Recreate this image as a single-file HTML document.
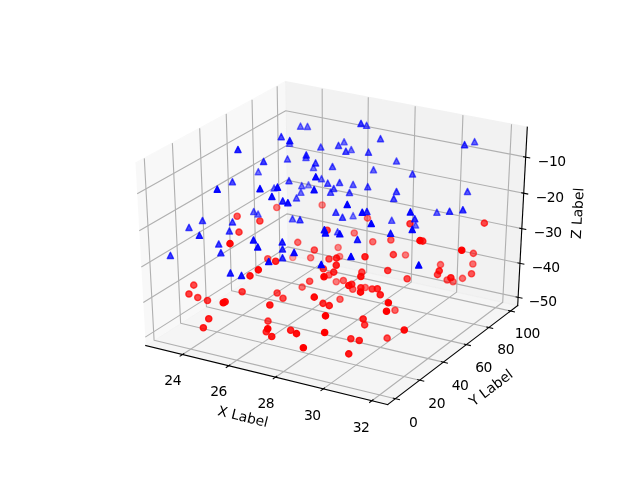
<!DOCTYPE html>
<html><head><meta charset="utf-8"><title>3D scatter</title>
<style>html,body{margin:0;padding:0;background:#fff;overflow:hidden}svg{display:block;will-change:transform}
text{font-size:10px;font-family:"DejaVu Sans","Liberation Sans",sans-serif}
text.tl{letter-spacing:-0.36px}
text.al{letter-spacing:0px}
</style>
</head><body>
<svg width="640" height="480" viewBox="0 0 460.8 345.6" version="1.1">
<defs>
<style type="text/css">*{stroke-linejoin: round; stroke-linecap: butt}</style>
</defs>
<g id="figure_1">
<g id="patch_1">
<path d="M 0 345.6
L 460.8 345.6
L 460.8 0
L 0 0
z
" style="fill: #ffffff"/>
</g>
<g id="patch_2">
<path d="M 57.6 307.584
L 414.72 307.584
L 414.72 41.472
L 57.6 41.472
z
" style="fill: #ffffff"/>
</g>
<g id="pane3d_1">
<g id="patch_3">
<path d="M 104.941774 248.782626
L 207.151387 183.537994
L 205.449705 58.866209
L 97.541237 117.48717
" style="fill: #f2f2f2; opacity: 0.5; stroke: #f2f2f2; stroke-linejoin: miter"/>
</g>
</g>
<g id="pane3d_2">
<g id="patch_4">
<path d="M 207.151387 183.537994
L 372.72135 220.013954
L 379.648599 91.582742
L 205.449705 58.866209
" style="fill: #e6e6e6; opacity: 0.5; stroke: #e6e6e6; stroke-linejoin: miter"/>
</g>
</g>
<g id="pane3d_3">
<g id="patch_5">
<path d="M 104.941774 248.782626
L 279.143747 291.264825
L 372.72135 220.013954
L 207.151387 183.537994
" style="fill: #ececec; opacity: 0.5; stroke: #ececec; stroke-linejoin: miter"/>
</g>
</g>
<g id="grid3d_1">
<g id="Line3DCollection_1">
<path d="M 131.431107 255.242513
L 232.399807 189.100358
L 231.964981 63.846079
" style="fill: none; stroke: #b0b0b0; stroke-width: 0.8"/>
<path d="M 164.613718 263.334674
L 263.991601 196.060201
L 265.166715 70.081742
" style="fill: none; stroke: #b0b0b0; stroke-width: 0.8"/>
<path d="M 198.388626 271.571276
L 296.10585 203.135144
L 298.94582 76.425842
" style="fill: none; stroke: #b0b0b0; stroke-width: 0.8"/>
<path d="M 232.771832 279.956222
L 328.755624 210.328066
L 333.317488 82.881233
" style="fill: none; stroke: #b0b0b0; stroke-width: 0.8"/>
<path d="M 267.779919 288.493557
L 361.954429 217.641943
L 368.29745 89.450867
" style="fill: none; stroke: #b0b0b0; stroke-width: 0.8"/>
</g>
</g>
<g id="grid3d_2">
<g id="Line3DCollection_2">
<path d="M 103.903962 114.030638
L 110.946392 244.94963
L 284.658631 287.06574
" style="fill: none; stroke: #b0b0b0; stroke-width: 0.8"/>
<path d="M 124.121245 103.047658
L 130.044117 232.758761
L 302.184293 273.721536
" style="fill: none; stroke: #b0b0b0; stroke-width: 0.8"/>
<path d="M 143.772493 92.372175
L 148.63389 220.892138
L 319.222716 260.74832
" style="fill: none; stroke: #b0b0b0; stroke-width: 0.8"/>
<path d="M 162.881151 81.991452
L 166.735711 209.336995
L 335.793939 248.130833
" style="fill: none; stroke: #b0b0b0; stroke-width: 0.8"/>
<path d="M 181.469383 71.893449
L 184.368544 198.081227
L 351.91692 235.854643
" style="fill: none; stroke: #b0b0b0; stroke-width: 0.8"/>
<path d="M 199.558166 62.06677
L 201.550382 187.113348
L 367.609603 223.906086
" style="fill: none; stroke: #b0b0b0; stroke-width: 0.8"/>
</g>
</g>
<g id="grid3d_3">
<g id="Line3DCollection_3">
<path d="M 373.041159 214.084684
L 207.072662 177.770315
L 104.600675 242.731069
" style="fill: none; stroke: #b0b0b0; stroke-width: 0.8"/>
<path d="M 374.361836 189.599325
L 206.74773 153.964548
L 103.191507 217.730527
" style="fill: none; stroke: #b0b0b0; stroke-width: 0.8"/>
<path d="M 375.709197 164.619265
L 206.416512 129.698191
L 101.752914 192.207968
" style="fill: none; stroke: #b0b0b0; stroke-width: 0.8"/>
<path d="M 377.084056 139.129359
L 206.078822 104.957744
L 100.283967 166.146868
" style="fill: none; stroke: #b0b0b0; stroke-width: 0.8"/>
<path d="M 378.487267 113.113836
L 205.73447 79.729178
L 98.783693 139.530002
" style="fill: none; stroke: #b0b0b0; stroke-width: 0.8"/>
</g>
</g>
<g id="axis3d_1">
<g id="line2d_1">
<path d="M 104.941774 248.782626
L 279.143747 291.264825
" style="fill: none; stroke: #000000; stroke-width: 0.8; stroke-linecap: square"/>
</g>
<g id="xtick_1">
<g id="line2d_2">
<path d="M 132.301268 254.672492
L 129.687525 256.384692
" style="fill: none; stroke: #000000; stroke-width: 0.8; stroke-linecap: square"/>
</g>
<g id="text_1">
<text class="tl" style="text-anchor: middle" x="124.109094" y="276.780603" transform="translate(0.214 0.419) rotate(-0 124.109094 276.780603)">24</text>
</g>
</g>
<g id="xtick_2">
<g id="line2d_3">
<path d="M 165.470712 262.754526
L 162.896491 264.497161
" style="fill: none; stroke: #000000; stroke-width: 0.8; stroke-linecap: square"/>
</g>
<g id="text_2">
<text class="tl" style="text-anchor: middle" x="157.288552" y="285.011356" transform="translate(0.020 0.109) rotate(-0 157.288552 285.011356)">26</text>
</g>
</g>
<g id="xtick_3">
<g id="line2d_4">
<path d="M 199.231843 270.98073
L 196.698977 272.754619
" style="fill: none; stroke: #000000; stroke-width: 0.8; stroke-linecap: square"/>
</g>
<g id="text_3">
<text class="tl" style="text-anchor: middle" x="191.061363" y="293.389301" transform="translate(0.283 0.371) rotate(-0 191.061363 293.389301)">28</text>
</g>
</g>
<g id="xtick_4">
<g id="line2d_5">
<path d="M 233.600634 279.354996
L 231.111038 281.160988
" style="fill: none; stroke: #000000; stroke-width: 0.8; stroke-linecap: square"/>
</g>
<g id="text_4">
<text class="tl" style="text-anchor: middle" x="225.443586" y="301.918422" transform="translate(-0.640 0.482) rotate(-0 225.443586 301.918422)">30</text>
</g>
</g>
<g id="xtick_5">
<g id="line2d_6">
<path d="M 268.593641 287.881358
L 266.149315 289.720332
" style="fill: none; stroke: #000000; stroke-width: 0.8; stroke-linecap: square"/>
</g>
<g id="text_5">
<text class="tl" style="text-anchor: middle" x="260.451867" y="310.602848" transform="translate(-0.507 0.437) rotate(-0 260.451867 310.602848)">32</text>
</g>
</g>
<g id="text_6">
<text class="al" style="text-anchor: middle" x="173.435684" y="303.123377" transform="translate(0.718 0.109) rotate(-346.294929 173.435684 303.123377)">X Label</text>
</g>
</g>
<g id="axis3d_2">
<g id="line2d_7">
<path d="M 372.72135 220.013954
L 279.143747 291.264825
" style="fill: none; stroke: #000000; stroke-width: 0.8; stroke-linecap: square"/>
</g>
<g id="xtick_6">
<g id="line2d_8">
<path d="M 283.204767 286.713255
L 287.569612 287.771501
" style="fill: none; stroke: #000000; stroke-width: 0.8; stroke-linecap: square"/>
</g>
<g id="text_7">
<text class="tl" style="text-anchor: middle" x="297.36752" y="306.830303" transform="translate(0.143 0.610) rotate(-0 297.36752 306.830303)">0</text>
</g>
</g>
<g id="xtick_7">
<g id="line2d_9">
<path d="M 300.744482 273.378916
L 305.067091 274.407531
" style="fill: none; stroke: #000000; stroke-width: 0.8; stroke-linecap: square"/>
</g>
<g id="text_8">
<text class="tl" style="text-anchor: middle" x="314.705304" y="293.321393" transform="translate(-0.306 0.439) rotate(-0 314.705304 293.321393)">20</text>
</g>
</g>
<g id="xtick_8">
<g id="line2d_10">
<path d="M 317.796744 260.415157
L 322.077761 261.415369
" style="fill: none; stroke: #000000; stroke-width: 0.8; stroke-linecap: square"/>
</g>
<g id="text_9">
<text class="tl" style="text-anchor: middle" x="331.561311" y="280.187866" transform="translate(-0.345 0.612) rotate(-0 331.561311 280.187866)">40</text>
</g>
</g>
<g id="xtick_9">
<g id="line2d_11">
<path d="M 334.381594 247.806742
L 338.62166 248.779711
" style="fill: none; stroke: #000000; stroke-width: 0.8; stroke-linecap: square"/>
</g>
<g id="text_10">
<text class="tl" style="text-anchor: middle" x="347.955348" y="267.414287" transform="translate(0.246 0.426) rotate(-0 347.955348 267.414287)">60</text>
</g>
</g>
<g id="xtick_10">
<g id="line2d_12">
<path d="M 350.517991 235.539257
L 354.717739 236.486081
" style="fill: none; stroke: #000000; stroke-width: 0.8; stroke-linecap: square"/>
</g>
<g id="text_11">
<text class="tl" style="text-anchor: middle" x="363.906148" y="254.98606" transform="translate(0.161 -0.106) rotate(-0 363.906148 254.98606)">80</text>
</g>
</g>
<g id="xtick_11">
<g id="line2d_13">
<path d="M 366.223881 223.59906
L 370.38394 224.520779
" style="fill: none; stroke: #000000; stroke-width: 0.8; stroke-linecap: square"/>
</g>
<g id="text_12">
<text class="tl" style="text-anchor: middle" x="379.431448" y="242.889367" transform="translate(0.264 0.471) rotate(-0 379.431448 242.889367)">100</text>
</g>
</g>
<g id="text_13">
<text class="al" style="text-anchor: middle" x="356.034781" y="282.00015" transform="translate(-0.502 -0.098) rotate(-37.285988 356.034781 282.00015)">Y Label</text>
</g>
</g>
<g id="axis3d_3">
<g id="line2d_14">
<path d="M 372.72135 220.013954
L 379.648599 91.582742
" style="fill: none; stroke: #000000; stroke-width: 0.8; stroke-linecap: square"/>
</g>
<g id="xtick_12">
<g id="line2d_15">
<path d="M 371.656308 213.781675
L 375.813747 214.691334
" style="fill: none; stroke: #000000; stroke-width: 0.8; stroke-linecap: square"/>
</g>
<g id="text_14">
<text class="tl" style="text-anchor: middle" x="391.416674" y="219.722195" transform="translate(-0.710 0.598) rotate(-0 391.416674 219.722195)">−50</text>
</g>
</g>
<g id="xtick_13">
<g id="line2d_16">
<path d="M 372.962678 189.301864
L 377.163098 190.194874
" style="fill: none; stroke: #000000; stroke-width: 0.8; stroke-linecap: square"/>
</g>
<g id="text_15">
<text class="tl" style="text-anchor: middle" x="392.917714" y="195.272777" transform="translate(-0.066 0.567) rotate(-0 392.917714 195.272777)">−40</text>
</g>
</g>
<g id="xtick_14">
<g id="line2d_17">
<path d="M 374.295432 164.327639
L 378.539731 165.203138
" style="fill: none; stroke: #000000; stroke-width: 0.8; stroke-linecap: square"/>
</g>
<g id="text_16">
<text class="tl" style="text-anchor: middle" x="394.44901" y="170.330514" transform="translate(-0.141 0.309) rotate(-0 394.44901 170.330514)">−30</text>
</g>
</g>
<g id="xtick_15">
<g id="line2d_18">
<path d="M 375.655378 138.843869
L 379.944482 139.700951
" style="fill: none; stroke: #000000; stroke-width: 0.8; stroke-linecap: square"/>
</g>
<g id="text_17">
<text class="tl" style="text-anchor: middle" x="396.011489" y="144.880354" transform="translate(-0.275 0.560) rotate(-0 396.011489 144.880354)">−20</text>
</g>
</g>
<g id="xtick_16">
<g id="line2d_19">
<path d="M 377.043356 112.834799
L 381.37822 113.672516
" style="fill: none; stroke: #000000; stroke-width: 0.8; stroke-linecap: square"/>
</g>
<g id="text_18">
<text class="tl" style="text-anchor: middle" x="397.606111" y="118.906624" transform="translate(-0.366 0.613) rotate(-0 397.606111 118.906624)">−10</text>
</g>
</g>
<g id="text_19">
<text class="al" style="text-anchor: middle" x="419.595339" y="153.524531" transform="translate(-0.427 0.251) rotate(-86.912605 419.595339 153.524531)">Z Label</text>
</g>
</g>
<g id="axes_1"/>
<g id="axes_2">
<g id="PathCollection_1">
<defs>
<path id="C0_0_4a3c22dc1c" d="M 0 2.236068
C 0.593012 2.236068 1.161816 2.000462 1.581139 1.581139
C 2.000462 1.161816 2.236068 0.593012 2.236068 -0
C 2.236068 -0.593012 2.000462 -1.161816 1.581139 -1.581139
C 1.161816 -2.000462 0.593012 -2.236068 0 -2.236068
C -0.593012 -2.236068 -1.161816 -2.000462 -1.581139 -1.581139
C -2.000462 -1.161816 -2.236068 -0.593012 -2.236068 0
C -2.236068 0.593012 -2.000462 1.161816 -1.581139 1.581139
C -1.161816 2.000462 -0.593012 2.236068 0 2.236068
z
"/>
</defs>
<g clip-path="url(#p53ebf2ea60)">
<use href="#C0_0_4a3c22dc1c" x="210.78" y="185.4" style="fill: #ff0000; fill-opacity: 0.35; stroke: #ff0000; stroke-opacity: 0.35"/>
</g>
<g clip-path="url(#p53ebf2ea60)">
<use href="#C0_0_4a3c22dc1c" x="231.948" y="147.6" style="fill: #ff0000; fill-opacity: 0.45; stroke: #ff0000; stroke-opacity: 0.45"/>
</g>
<g clip-path="url(#p53ebf2ea60)">
<use href="#C0_0_4a3c22dc1c" x="243.468" y="178.2" style="fill: #ff0000; fill-opacity: 0.45; stroke: #ff0000; stroke-opacity: 0.45"/>
</g>
<g clip-path="url(#p53ebf2ea60)">
<use href="#C0_0_4a3c22dc1c" x="244.548" y="184.68" style="fill: #ff0000; fill-opacity: 0.45; stroke: #ff0000; stroke-opacity: 0.45"/>
</g>
<g clip-path="url(#p53ebf2ea60)">
<use href="#C0_0_4a3c22dc1c" x="199.26" y="149.4" style="fill: #ff0000; fill-opacity: 0.5; stroke: #ff0000; stroke-opacity: 0.5"/>
</g>
<g clip-path="url(#p53ebf2ea60)">
<use href="#C0_0_4a3c22dc1c" x="264.6" y="157.068" style="fill: #ff0000; fill-opacity: 0.5; stroke: #ff0000; stroke-opacity: 0.5"/>
</g>
<g clip-path="url(#p53ebf2ea60)">
<use href="#C0_0_4a3c22dc1c" x="255.06" y="167.76" style="fill: #ff0000; fill-opacity: 0.5; stroke: #ff0000; stroke-opacity: 0.5"/>
</g>
<g clip-path="url(#p53ebf2ea60)">
<use href="#C0_0_4a3c22dc1c" x="223.668" y="185.58" style="fill: #ff0000; fill-opacity: 0.5; stroke: #ff0000; stroke-opacity: 0.5"/>
</g>
<g clip-path="url(#p53ebf2ea60)">
<use href="#C0_0_4a3c22dc1c" x="242.1" y="202.86" style="fill: #ff0000; fill-opacity: 0.5; stroke: #ff0000; stroke-opacity: 0.5"/>
</g>
<g clip-path="url(#p53ebf2ea60)">
<use href="#C0_0_4a3c22dc1c" x="291.96" y="183.6" style="fill: #ff0000; fill-opacity: 0.5; stroke: #ff0000; stroke-opacity: 0.5"/>
</g>
<g clip-path="url(#p53ebf2ea60)">
<use href="#C0_0_4a3c22dc1c" x="340.452" y="190.08" style="fill: #ff0000; fill-opacity: 0.55; stroke: #ff0000; stroke-opacity: 0.55"/>
</g>
<g clip-path="url(#p53ebf2ea60)">
<use href="#C0_0_4a3c22dc1c" x="214.38" y="174.492" style="fill: #ff0000; fill-opacity: 0.55; stroke: #ff0000; stroke-opacity: 0.55"/>
</g>
<g clip-path="url(#p53ebf2ea60)">
<use href="#C0_0_4a3c22dc1c" x="217.548" y="206.748" style="fill: #ff0000; fill-opacity: 0.55; stroke: #ff0000; stroke-opacity: 0.55"/>
</g>
<g clip-path="url(#p53ebf2ea60)">
<use href="#C0_0_4a3c22dc1c" x="268.38" y="174.06" style="fill: #ff0000; fill-opacity: 0.55; stroke: #ff0000; stroke-opacity: 0.55"/>
</g>
<g clip-path="url(#p53ebf2ea60)">
<use href="#C0_0_4a3c22dc1c" x="262.98" y="207" style="fill: #ff0000; fill-opacity: 0.55; stroke: #ff0000; stroke-opacity: 0.55"/>
</g>
<g clip-path="url(#p53ebf2ea60)">
<use href="#C0_0_4a3c22dc1c" x="333" y="200.412" style="fill: #ff0000; fill-opacity: 0.55; stroke: #ff0000; stroke-opacity: 0.55"/>
</g>
<g clip-path="url(#p53ebf2ea60)">
<use href="#C0_0_4a3c22dc1c" x="317.16" y="190.548" style="fill: #ff0000; fill-opacity: 0.55; stroke: #ff0000; stroke-opacity: 0.55"/>
</g>
<g clip-path="url(#p53ebf2ea60)">
<use href="#C0_0_4a3c22dc1c" x="326.16" y="202.86" style="fill: #ff0000; fill-opacity: 0.55; stroke: #ff0000; stroke-opacity: 0.55"/>
</g>
<g clip-path="url(#p53ebf2ea60)">
<use href="#C0_0_4a3c22dc1c" x="340.812" y="182.412" style="fill: #ff0000; fill-opacity: 0.6; stroke: #ff0000; stroke-opacity: 0.6"/>
</g>
<g clip-path="url(#p53ebf2ea60)">
<use href="#C0_0_4a3c22dc1c" x="192.78" y="186.3" style="fill: #ff0000; fill-opacity: 0.6; stroke: #ff0000; stroke-opacity: 0.6"/>
</g>
<g clip-path="url(#p53ebf2ea60)">
<use href="#C0_0_4a3c22dc1c" x="281.412" y="172.8" style="fill: #ff0000; fill-opacity: 0.6; stroke: #ff0000; stroke-opacity: 0.6"/>
</g>
<g clip-path="url(#p53ebf2ea60)">
<use href="#C0_0_4a3c22dc1c" x="236.88" y="198" style="fill: #ff0000; fill-opacity: 0.6; stroke: #ff0000; stroke-opacity: 0.6"/>
</g>
<g clip-path="url(#p53ebf2ea60)">
<use href="#C0_0_4a3c22dc1c" x="247.212" y="201.96" style="fill: #ff0000; fill-opacity: 0.6; stroke: #ff0000; stroke-opacity: 0.6"/>
</g>
<g clip-path="url(#p53ebf2ea60)">
<use href="#C0_0_4a3c22dc1c" x="253.98" y="208.26" style="fill: #ff0000; fill-opacity: 0.6; stroke: #ff0000; stroke-opacity: 0.6"/>
</g>
<g clip-path="url(#p53ebf2ea60)">
<use href="#C0_0_4a3c22dc1c" x="321.948" y="201.6" style="fill: #ff0000; fill-opacity: 0.6; stroke: #ff0000; stroke-opacity: 0.6"/>
</g>
<g clip-path="url(#p53ebf2ea60)">
<use href="#C0_0_4a3c22dc1c" x="244.8" y="215.46" style="fill: #ff0000; fill-opacity: 0.6; stroke: #ff0000; stroke-opacity: 0.6"/>
</g>
<g clip-path="url(#p53ebf2ea60)">
<use href="#C0_0_4a3c22dc1c" x="284.4" y="223.38" style="fill: #ff0000; fill-opacity: 0.6; stroke: #ff0000; stroke-opacity: 0.6"/>
</g>
<g clip-path="url(#p53ebf2ea60)">
<use href="#C0_0_4a3c22dc1c" x="170.748" y="155.7" style="fill: #ff0000; fill-opacity: 0.65; stroke: #ff0000; stroke-opacity: 0.65"/>
</g>
<g clip-path="url(#p53ebf2ea60)">
<use href="#C0_0_4a3c22dc1c" x="226.332" y="180" style="fill: #ff0000; fill-opacity: 0.65; stroke: #ff0000; stroke-opacity: 0.65"/>
</g>
<g clip-path="url(#p53ebf2ea60)">
<use href="#C0_0_4a3c22dc1c" x="222.948" y="202.5" style="fill: #ff0000; fill-opacity: 0.65; stroke: #ff0000; stroke-opacity: 0.65"/>
</g>
<g clip-path="url(#p53ebf2ea60)">
<use href="#C0_0_4a3c22dc1c" x="339.48" y="197.1" style="fill: #ff0000; fill-opacity: 0.65; stroke: #ff0000; stroke-opacity: 0.65"/>
</g>
<g clip-path="url(#p53ebf2ea60)">
<use href="#C0_0_4a3c22dc1c" x="172.08" y="167.148" style="fill: #ff0000; fill-opacity: 0.7; stroke: #ff0000; stroke-opacity: 0.7"/>
</g>
<g clip-path="url(#p53ebf2ea60)">
<use href="#C0_0_4a3c22dc1c" x="187.092" y="159.12" style="fill: #ff0000; fill-opacity: 0.7; stroke: #ff0000; stroke-opacity: 0.7"/>
</g>
<g clip-path="url(#p53ebf2ea60)">
<use href="#C0_0_4a3c22dc1c" x="348.732" y="160.668" style="fill: #ff0000; fill-opacity: 0.7; stroke: #ff0000; stroke-opacity: 0.7"/>
</g>
<g clip-path="url(#p53ebf2ea60)">
<use href="#C0_0_4a3c22dc1c" x="139.5" y="205.308" style="fill: #ff0000; fill-opacity: 0.7; stroke: #ff0000; stroke-opacity: 0.7"/>
</g>
<g clip-path="url(#p53ebf2ea60)">
<use href="#C0_0_4a3c22dc1c" x="199.548" y="210.96" style="fill: #ff0000; fill-opacity: 0.7; stroke: #ff0000; stroke-opacity: 0.7"/>
</g>
<g clip-path="url(#p53ebf2ea60)">
<use href="#C0_0_4a3c22dc1c" x="203.76" y="214.74" style="fill: #ff0000; fill-opacity: 0.7; stroke: #ff0000; stroke-opacity: 0.7"/>
</g>
<g clip-path="url(#p53ebf2ea60)">
<use href="#C0_0_4a3c22dc1c" x="236.88" y="186.48" style="fill: #ff0000; fill-opacity: 0.7; stroke: #ff0000; stroke-opacity: 0.7"/>
</g>
<g clip-path="url(#p53ebf2ea60)">
<use href="#C0_0_4a3c22dc1c" x="283.212" y="183.348" style="fill: #ff0000; fill-opacity: 0.7; stroke: #ff0000; stroke-opacity: 0.7"/>
</g>
<g clip-path="url(#p53ebf2ea60)">
<use href="#C0_0_4a3c22dc1c" x="260.532" y="195.948" style="fill: #ff0000; fill-opacity: 0.7; stroke: #ff0000; stroke-opacity: 0.7"/>
</g>
<g clip-path="url(#p53ebf2ea60)">
<use href="#C0_0_4a3c22dc1c" x="293.148" y="200.7" style="fill: #ff0000; fill-opacity: 0.7; stroke: #ff0000; stroke-opacity: 0.7"/>
</g>
<g clip-path="url(#p53ebf2ea60)">
<use href="#C0_0_4a3c22dc1c" x="315" y="197.748" style="fill: #ff0000; fill-opacity: 0.7; stroke: #ff0000; stroke-opacity: 0.7"/>
</g>
<g clip-path="url(#p53ebf2ea60)">
<use href="#C0_0_4a3c22dc1c" x="142.38" y="214.236" style="fill: #ff0000; fill-opacity: 0.7; stroke: #ff0000; stroke-opacity: 0.7"/>
</g>
<g clip-path="url(#p53ebf2ea60)">
<use href="#C0_0_4a3c22dc1c" x="192.96" y="231.228" style="fill: #ff0000; fill-opacity: 0.7; stroke: #ff0000; stroke-opacity: 0.7"/>
</g>
<g clip-path="url(#p53ebf2ea60)">
<use href="#C0_0_4a3c22dc1c" x="278.748" y="243.468" style="fill: #ff0000; fill-opacity: 0.7; stroke: #ff0000; stroke-opacity: 0.7"/>
</g>
<g clip-path="url(#p53ebf2ea60)">
<use href="#C0_0_4a3c22dc1c" x="235.548" y="165.78" style="fill: #ff0000; fill-opacity: 0.75; stroke: #ff0000; stroke-opacity: 0.75"/>
</g>
<g clip-path="url(#p53ebf2ea60)">
<use href="#C0_0_4a3c22dc1c" x="295.2" y="161.1" style="fill: #ff0000; fill-opacity: 0.75; stroke: #ff0000; stroke-opacity: 0.75"/>
</g>
<g clip-path="url(#p53ebf2ea60)">
<use href="#C0_0_4a3c22dc1c" x="136.044" y="211.644" style="fill: #ff0000; fill-opacity: 0.75; stroke: #ff0000; stroke-opacity: 0.75"/>
</g>
<g clip-path="url(#p53ebf2ea60)">
<use href="#C0_0_4a3c22dc1c" x="174.348" y="210.06" style="fill: #ff0000; fill-opacity: 0.75; stroke: #ff0000; stroke-opacity: 0.75"/>
</g>
<g clip-path="url(#p53ebf2ea60)">
<use href="#C0_0_4a3c22dc1c" x="279.18" y="194.76" style="fill: #ff0000; fill-opacity: 0.75; stroke: #ff0000; stroke-opacity: 0.75"/>
</g>
<g clip-path="url(#p53ebf2ea60)">
<use href="#C0_0_4a3c22dc1c" x="232.812" y="193.5" style="fill: #ff0000; fill-opacity: 0.75; stroke: #ff0000; stroke-opacity: 0.75"/>
</g>
<g clip-path="url(#p53ebf2ea60)">
<use href="#C0_0_4a3c22dc1c" x="267.948" y="208.08" style="fill: #ff0000; fill-opacity: 0.75; stroke: #ff0000; stroke-opacity: 0.75"/>
</g>
<g clip-path="url(#p53ebf2ea60)">
<use href="#C0_0_4a3c22dc1c" x="149.4" y="216.36" style="fill: #ff0000; fill-opacity: 0.75; stroke: #ff0000; stroke-opacity: 0.75"/>
</g>
<g clip-path="url(#p53ebf2ea60)">
<use href="#C0_0_4a3c22dc1c" x="262.548" y="233.892" style="fill: #ff0000; fill-opacity: 0.75; stroke: #ff0000; stroke-opacity: 0.75"/>
</g>
<g clip-path="url(#p53ebf2ea60)">
<use href="#C0_0_4a3c22dc1c" x="242.28" y="185.868" style="fill: #ff0000; fill-opacity: 0.8; stroke: #ff0000; stroke-opacity: 0.8"/>
</g>
<g clip-path="url(#p53ebf2ea60)">
<use href="#C0_0_4a3c22dc1c" x="240.3" y="195.948" style="fill: #ff0000; fill-opacity: 0.8; stroke: #ff0000; stroke-opacity: 0.8"/>
</g>
<g clip-path="url(#p53ebf2ea60)">
<use href="#C0_0_4a3c22dc1c" x="253.26" y="204.66" style="fill: #ff0000; fill-opacity: 0.8; stroke: #ff0000; stroke-opacity: 0.8"/>
</g>
<g clip-path="url(#p53ebf2ea60)">
<use href="#C0_0_4a3c22dc1c" x="259.812" y="207.18" style="fill: #ff0000; fill-opacity: 0.8; stroke: #ff0000; stroke-opacity: 0.8"/>
</g>
<g clip-path="url(#p53ebf2ea60)">
<use href="#C0_0_4a3c22dc1c" x="271.692" y="207.9" style="fill: #ff0000; fill-opacity: 0.8; stroke: #ff0000; stroke-opacity: 0.8"/>
</g>
<g clip-path="url(#p53ebf2ea60)">
<use href="#C0_0_4a3c22dc1c" x="304.38" y="173.628" style="fill: #ff0000; fill-opacity: 0.8; stroke: #ff0000; stroke-opacity: 0.8"/>
</g>
<g clip-path="url(#p53ebf2ea60)">
<use href="#C0_0_4a3c22dc1c" x="316.26" y="195.012" style="fill: #ff0000; fill-opacity: 0.8; stroke: #ff0000; stroke-opacity: 0.8"/>
</g>
<g clip-path="url(#p53ebf2ea60)">
<use href="#C0_0_4a3c22dc1c" x="191.7" y="238.86" style="fill: #ff0000; fill-opacity: 0.8; stroke: #ff0000; stroke-opacity: 0.8"/>
</g>
<g clip-path="url(#p53ebf2ea60)">
<use href="#C0_0_4a3c22dc1c" x="232.56" y="218.412" style="fill: #ff0000; fill-opacity: 0.8; stroke: #ff0000; stroke-opacity: 0.8"/>
</g>
<g clip-path="url(#p53ebf2ea60)">
<use href="#C0_0_4a3c22dc1c" x="252.612" y="243.9" style="fill: #ff0000; fill-opacity: 0.8; stroke: #ff0000; stroke-opacity: 0.8"/>
</g>
<g clip-path="url(#p53ebf2ea60)">
<use href="#C0_0_4a3c22dc1c" x="198.468" y="188.1" style="fill: #ff0000; fill-opacity: 0.85; stroke: #ff0000; stroke-opacity: 0.85"/>
</g>
<g clip-path="url(#p53ebf2ea60)">
<use href="#C0_0_4a3c22dc1c" x="242.1" y="190.98" style="fill: #ff0000; fill-opacity: 0.85; stroke: #ff0000; stroke-opacity: 0.85"/>
</g>
<g clip-path="url(#p53ebf2ea60)">
<use href="#C0_0_4a3c22dc1c" x="262.8" y="184.86" style="fill: #ff0000; fill-opacity: 0.85; stroke: #ff0000; stroke-opacity: 0.85"/>
</g>
<g clip-path="url(#p53ebf2ea60)">
<use href="#C0_0_4a3c22dc1c" x="273.78" y="212.22" style="fill: #ff0000; fill-opacity: 0.85; stroke: #ff0000; stroke-opacity: 0.85"/>
</g>
<g clip-path="url(#p53ebf2ea60)">
<use href="#C0_0_4a3c22dc1c" x="324.612" y="199.98" style="fill: #ff0000; fill-opacity: 0.85; stroke: #ff0000; stroke-opacity: 0.85"/>
</g>
<g clip-path="url(#p53ebf2ea60)">
<use href="#C0_0_4a3c22dc1c" x="150.3" y="229.5" style="fill: #ff0000; fill-opacity: 0.85; stroke: #ff0000; stroke-opacity: 0.85"/>
</g>
<g clip-path="url(#p53ebf2ea60)">
<use href="#C0_0_4a3c22dc1c" x="146.412" y="235.98" style="fill: #ff0000; fill-opacity: 0.85; stroke: #ff0000; stroke-opacity: 0.85"/>
</g>
<g clip-path="url(#p53ebf2ea60)">
<use href="#C0_0_4a3c22dc1c" x="209.268" y="237.78" style="fill: #ff0000; fill-opacity: 0.85; stroke: #ff0000; stroke-opacity: 0.85"/>
</g>
<g clip-path="url(#p53ebf2ea60)">
<use href="#C0_0_4a3c22dc1c" x="237.06" y="220.068" style="fill: #ff0000; fill-opacity: 0.85; stroke: #ff0000; stroke-opacity: 0.85"/>
</g>
<g clip-path="url(#p53ebf2ea60)">
<use href="#C0_0_4a3c22dc1c" x="261.468" y="229.68" style="fill: #ff0000; fill-opacity: 0.85; stroke: #ff0000; stroke-opacity: 0.85"/>
</g>
<g clip-path="url(#p53ebf2ea60)">
<use href="#C0_0_4a3c22dc1c" x="258.66" y="245.16" style="fill: #ff0000; fill-opacity: 0.85; stroke: #ff0000; stroke-opacity: 0.85"/>
</g>
<g clip-path="url(#p53ebf2ea60)">
<use href="#C0_0_4a3c22dc1c" x="180" y="198.612" style="fill: #ff0000; fill-opacity: 0.9; stroke: #ff0000; stroke-opacity: 0.9"/>
</g>
<g clip-path="url(#p53ebf2ea60)">
<use href="#C0_0_4a3c22dc1c" x="259.812" y="199.08" style="fill: #ff0000; fill-opacity: 0.9; stroke: #ff0000; stroke-opacity: 0.9"/>
</g>
<g clip-path="url(#p53ebf2ea60)">
<use href="#C0_0_4a3c22dc1c" x="251.1" y="205.56" style="fill: #ff0000; fill-opacity: 0.9; stroke: #ff0000; stroke-opacity: 0.9"/>
</g>
<g clip-path="url(#p53ebf2ea60)">
<use href="#C0_0_4a3c22dc1c" x="162.108" y="217.26" style="fill: #ff0000; fill-opacity: 0.9; stroke: #ff0000; stroke-opacity: 0.9"/>
</g>
<g clip-path="url(#p53ebf2ea60)">
<use href="#C0_0_4a3c22dc1c" x="194.292" y="219.6" style="fill: #ff0000; fill-opacity: 0.9; stroke: #ff0000; stroke-opacity: 0.9"/>
</g>
<g clip-path="url(#p53ebf2ea60)">
<use href="#C0_0_4a3c22dc1c" x="195.66" y="242.28" style="fill: #ff0000; fill-opacity: 0.9; stroke: #ff0000; stroke-opacity: 0.9"/>
</g>
<g clip-path="url(#p53ebf2ea60)">
<use href="#C0_0_4a3c22dc1c" x="251.1" y="254.772" style="fill: #ff0000; fill-opacity: 0.9; stroke: #ff0000; stroke-opacity: 0.9"/>
</g>
<g clip-path="url(#p53ebf2ea60)">
<use href="#C0_0_4a3c22dc1c" x="165.6" y="175.428" style="fill: #ff0000; fill-opacity: 0.95; stroke: #ff0000; stroke-opacity: 0.95"/>
</g>
<g clip-path="url(#p53ebf2ea60)">
<use href="#C0_0_4a3c22dc1c" x="186.012" y="194.292" style="fill: #ff0000; fill-opacity: 0.95; stroke: #ff0000; stroke-opacity: 0.95"/>
</g>
<g clip-path="url(#p53ebf2ea60)">
<use href="#C0_0_4a3c22dc1c" x="226.26" y="213.948" style="fill: #ff0000; fill-opacity: 0.95; stroke: #ff0000; stroke-opacity: 0.95"/>
</g>
<g clip-path="url(#p53ebf2ea60)">
<use href="#C0_0_4a3c22dc1c" x="259.56" y="210.348" style="fill: #ff0000; fill-opacity: 0.95; stroke: #ff0000; stroke-opacity: 0.95"/>
</g>
<g clip-path="url(#p53ebf2ea60)">
<use href="#C0_0_4a3c22dc1c" x="213.48" y="240.228" style="fill: #ff0000; fill-opacity: 0.95; stroke: #ff0000; stroke-opacity: 0.95"/>
</g>
<g clip-path="url(#p53ebf2ea60)">
<use href="#C0_0_4a3c22dc1c" x="291.06" y="237.6" style="fill: #ff0000; fill-opacity: 0.95; stroke: #ff0000; stroke-opacity: 0.95"/>
</g>
<g clip-path="url(#p53ebf2ea60)">
<use href="#C0_0_4a3c22dc1c" x="332.46" y="180.18" style="fill: #ff0000; stroke: #ff0000"/>
</g>
<g clip-path="url(#p53ebf2ea60)">
<use href="#C0_0_4a3c22dc1c" x="233.28" y="199.26" style="fill: #ff0000; stroke: #ff0000"/>
</g>
<g clip-path="url(#p53ebf2ea60)">
<use href="#C0_0_4a3c22dc1c" x="302.4" y="173.268" style="fill: #ff0000; stroke: #ff0000"/>
</g>
<g clip-path="url(#p53ebf2ea60)">
<use href="#C0_0_4a3c22dc1c" x="160.74" y="217.98" style="fill: #ff0000; stroke: #ff0000"/>
</g>
<g clip-path="url(#p53ebf2ea60)">
<use href="#C0_0_4a3c22dc1c" x="192.78" y="236.7" style="fill: #ff0000; stroke: #ff0000"/>
</g>
<g clip-path="url(#p53ebf2ea60)">
<use href="#C0_0_4a3c22dc1c" x="218.412" y="250.38" style="fill: #ff0000; stroke: #ff0000"/>
</g>
<g clip-path="url(#p53ebf2ea60)">
<use href="#C0_0_4a3c22dc1c" x="279.612" y="217.98" style="fill: #ff0000; stroke: #ff0000"/>
</g>
<g clip-path="url(#p53ebf2ea60)">
<use href="#C0_0_4a3c22dc1c" x="278.28" y="224.1" style="fill: #ff0000; stroke: #ff0000"/>
</g>
<g clip-path="url(#p53ebf2ea60)">
<use href="#C0_0_4a3c22dc1c" x="234.36" y="227.412" style="fill: #ff0000; stroke: #ff0000"/>
</g>
<g clip-path="url(#p53ebf2ea60)">
<use href="#C0_0_4a3c22dc1c" x="233.748" y="239.4" style="fill: #ff0000; stroke: #ff0000"/>
</g>
</g>
<g id="PathCollection_2">
<path d="M 222.12 130.783932
L 219.883932 135.256068
L 224.356068 135.256068
z
" clip-path="url(#p53ebf2ea60)" style="fill: #0000ff; fill-opacity: 0.45; stroke: #0000ff; stroke-opacity: 0.45"/>
<path d="M 208.512 100.939932
L 206.275932 105.412068
L 210.748068 105.412068
z
" clip-path="url(#p53ebf2ea60)" style="fill: #0000ff; fill-opacity: 0.5; stroke: #0000ff; stroke-opacity: 0.5"/>
<path d="M 254.232 152.995932
L 251.995932 157.468068
L 256.468068 157.468068
z
" clip-path="url(#p53ebf2ea60)" style="fill: #0000ff; fill-opacity: 0.5; stroke: #0000ff; stroke-opacity: 0.5"/>
<path d="M 216.36 88.555932
L 214.123932 93.028068
L 218.596068 93.028068
z
" clip-path="url(#p53ebf2ea60)" style="fill: #0000ff; fill-opacity: 0.55; stroke: #0000ff; stroke-opacity: 0.55"/>
<path d="M 221.4 88.771932
L 219.163932 93.244068
L 223.636068 93.244068
z
" clip-path="url(#p53ebf2ea60)" style="fill: #0000ff; fill-opacity: 0.55; stroke: #0000ff; stroke-opacity: 0.55"/>
<path d="M 185.976 121.387932
L 183.739932 125.860068
L 188.212068 125.860068
z
" clip-path="url(#p53ebf2ea60)" style="fill: #0000ff; fill-opacity: 0.55; stroke: #0000ff; stroke-opacity: 0.55"/>
<path d="M 225.72 118.363932
L 223.483932 122.836068
L 227.956068 122.836068
z
" clip-path="url(#p53ebf2ea60)" style="fill: #0000ff; fill-opacity: 0.55; stroke: #0000ff; stroke-opacity: 0.55"/>
<path d="M 247.752 99.823932
L 245.515932 104.296068
L 249.988068 104.296068
z
" clip-path="url(#p53ebf2ea60)" style="fill: #0000ff; fill-opacity: 0.55; stroke: #0000ff; stroke-opacity: 0.55"/>
<path d="M 252.9 105.403932
L 250.663932 109.876068
L 255.136068 109.876068
z
" clip-path="url(#p53ebf2ea60)" style="fill: #0000ff; fill-opacity: 0.55; stroke: #0000ff; stroke-opacity: 0.55"/>
<path d="M 197.352 133.051932
L 195.115932 137.524068
L 199.588068 137.524068
z
" clip-path="url(#p53ebf2ea60)" style="fill: #0000ff; fill-opacity: 0.55; stroke: #0000ff; stroke-opacity: 0.55"/>
<path d="M 217.26 131.395932
L 215.023932 135.868068
L 219.496068 135.868068
z
" clip-path="url(#p53ebf2ea60)" style="fill: #0000ff; fill-opacity: 0.55; stroke: #0000ff; stroke-opacity: 0.55"/>
<path d="M 216.648 136.183932
L 214.411932 140.656068
L 218.884068 140.656068
z
" clip-path="url(#p53ebf2ea60)" style="fill: #0000ff; fill-opacity: 0.55; stroke: #0000ff; stroke-opacity: 0.55"/>
<path d="M 185.832 151.843932
L 183.595932 156.316068
L 188.068068 156.316068
z
" clip-path="url(#p53ebf2ea60)" style="fill: #0000ff; fill-opacity: 0.55; stroke: #0000ff; stroke-opacity: 0.55"/>
<path d="M 231.48 126.355932
L 229.243932 130.828068
L 233.716068 130.828068
z
" clip-path="url(#p53ebf2ea60)" style="fill: #0000ff; fill-opacity: 0.55; stroke: #0000ff; stroke-opacity: 0.55"/>
<path d="M 299.232 159.763932
L 296.995932 164.236068
L 301.468068 164.236068
z
" clip-path="url(#p53ebf2ea60)" style="fill: #0000ff; fill-opacity: 0.55; stroke: #0000ff; stroke-opacity: 0.55"/>
<path d="M 207 112.171932
L 204.763932 116.644068
L 209.236068 116.644068
z
" clip-path="url(#p53ebf2ea60)" style="fill: #0000ff; fill-opacity: 0.6; stroke: #0000ff; stroke-opacity: 0.6"/>
<path d="M 220.32 111.163932
L 218.083932 115.636068
L 222.556068 115.636068
z
" clip-path="url(#p53ebf2ea60)" style="fill: #0000ff; fill-opacity: 0.6; stroke: #0000ff; stroke-opacity: 0.6"/>
<path d="M 230.976 103.603932
L 228.739932 108.076068
L 233.212068 108.076068
z
" clip-path="url(#p53ebf2ea60)" style="fill: #0000ff; fill-opacity: 0.6; stroke: #0000ff; stroke-opacity: 0.6"/>
<path d="M 263.952 87.979932
L 261.715932 92.452068
L 266.188068 92.452068
z
" clip-path="url(#p53ebf2ea60)" style="fill: #0000ff; fill-opacity: 0.6; stroke: #0000ff; stroke-opacity: 0.6"/>
<path d="M 268.92 119.983932
L 266.683932 124.456068
L 271.156068 124.456068
z
" clip-path="url(#p53ebf2ea60)" style="fill: #0000ff; fill-opacity: 0.6; stroke: #0000ff; stroke-opacity: 0.6"/>
<path d="M 285.48 113.683932
L 283.243932 118.156068
L 287.716068 118.156068
z
" clip-path="url(#p53ebf2ea60)" style="fill: #0000ff; fill-opacity: 0.6; stroke: #0000ff; stroke-opacity: 0.6"/>
<path d="M 341.712 99.715932
L 339.475932 104.188068
L 343.948068 104.188068
z
" clip-path="url(#p53ebf2ea60)" style="fill: #0000ff; fill-opacity: 0.6; stroke: #0000ff; stroke-opacity: 0.6"/>
<path d="M 213.48 140.251932
L 211.243932 144.724068
L 215.716068 144.724068
z
" clip-path="url(#p53ebf2ea60)" style="fill: #0000ff; fill-opacity: 0.6; stroke: #0000ff; stroke-opacity: 0.6"/>
<path d="M 182.7 150.043932
L 180.463932 154.516068
L 184.936068 154.516068
z
" clip-path="url(#p53ebf2ea60)" style="fill: #0000ff; fill-opacity: 0.6; stroke: #0000ff; stroke-opacity: 0.6"/>
<path d="M 210.6 155.263932
L 208.363932 159.736068
L 212.836068 159.736068
z
" clip-path="url(#p53ebf2ea60)" style="fill: #0000ff; fill-opacity: 0.6; stroke: #0000ff; stroke-opacity: 0.6"/>
<path d="M 254.232 130.531932
L 251.995932 135.004068
L 256.468068 135.004068
z
" clip-path="url(#p53ebf2ea60)" style="fill: #0000ff; fill-opacity: 0.6; stroke: #0000ff; stroke-opacity: 0.6"/>
<path d="M 282.06 156.343932
L 279.823932 160.816068
L 284.296068 160.816068
z
" clip-path="url(#p53ebf2ea60)" style="fill: #0000ff; fill-opacity: 0.6; stroke: #0000ff; stroke-opacity: 0.6"/>
<path d="M 243.072 164.659932
L 240.835932 169.132068
L 245.308068 169.132068
z
" clip-path="url(#p53ebf2ea60)" style="fill: #0000ff; fill-opacity: 0.6; stroke: #0000ff; stroke-opacity: 0.6"/>
<path d="M 314.568 150.583932
L 312.331932 155.056068
L 316.804068 155.056068
z
" clip-path="url(#p53ebf2ea60)" style="fill: #0000ff; fill-opacity: 0.6; stroke: #0000ff; stroke-opacity: 0.6"/>
<path d="M 273.96 97.555932
L 271.723932 102.028068
L 276.196068 102.028068
z
" clip-path="url(#p53ebf2ea60)" style="fill: #0000ff; fill-opacity: 0.65; stroke: #0000ff; stroke-opacity: 0.65"/>
<path d="M 243.72 102.451932
L 241.483932 106.924068
L 245.956068 106.924068
z
" clip-path="url(#p53ebf2ea60)" style="fill: #0000ff; fill-opacity: 0.65; stroke: #0000ff; stroke-opacity: 0.65"/>
<path d="M 265.32 107.275932
L 263.083932 111.748068
L 267.556068 111.748068
z
" clip-path="url(#p53ebf2ea60)" style="fill: #0000ff; fill-opacity: 0.65; stroke: #0000ff; stroke-opacity: 0.65"/>
<path d="M 239.4 117.643932
L 237.163932 122.116068
L 241.636068 122.116068
z
" clip-path="url(#p53ebf2ea60)" style="fill: #0000ff; fill-opacity: 0.65; stroke: #0000ff; stroke-opacity: 0.65"/>
<path d="M 297 123.043932
L 294.763932 127.516068
L 299.236068 127.516068
z
" clip-path="url(#p53ebf2ea60)" style="fill: #0000ff; fill-opacity: 0.65; stroke: #0000ff; stroke-opacity: 0.65"/>
<path d="M 208.08 127.795932
L 205.843932 132.268068
L 210.316068 132.268068
z
" clip-path="url(#p53ebf2ea60)" style="fill: #0000ff; fill-opacity: 0.65; stroke: #0000ff; stroke-opacity: 0.65"/>
<path d="M 235.98 129.595932
L 233.743932 134.068068
L 238.216068 134.068068
z
" clip-path="url(#p53ebf2ea60)" style="fill: #0000ff; fill-opacity: 0.65; stroke: #0000ff; stroke-opacity: 0.65"/>
<path d="M 244.512 129.163932
L 242.275932 133.636068
L 246.748068 133.636068
z
" clip-path="url(#p53ebf2ea60)" style="fill: #0000ff; fill-opacity: 0.65; stroke: #0000ff; stroke-opacity: 0.65"/>
<path d="M 264.78 132.115932
L 262.543932 136.588068
L 267.016068 136.588068
z
" clip-path="url(#p53ebf2ea60)" style="fill: #0000ff; fill-opacity: 0.65; stroke: #0000ff; stroke-opacity: 0.65"/>
<path d="M 240.3 133.483932
L 238.063932 137.956068
L 242.536068 137.956068
z
" clip-path="url(#p53ebf2ea60)" style="fill: #0000ff; fill-opacity: 0.65; stroke: #0000ff; stroke-opacity: 0.65"/>
<path d="M 238.032 136.183932
L 235.795932 140.656068
L 240.268068 140.656068
z
" clip-path="url(#p53ebf2ea60)" style="fill: #0000ff; fill-opacity: 0.65; stroke: #0000ff; stroke-opacity: 0.65"/>
<path d="M 251.64 136.363932
L 249.403932 140.836068
L 253.876068 140.836068
z
" clip-path="url(#p53ebf2ea60)" style="fill: #0000ff; fill-opacity: 0.65; stroke: #0000ff; stroke-opacity: 0.65"/>
<path d="M 336.6 135.643932
L 334.363932 140.116068
L 338.836068 140.116068
z
" clip-path="url(#p53ebf2ea60)" style="fill: #0000ff; fill-opacity: 0.65; stroke: #0000ff; stroke-opacity: 0.65"/>
<path d="M 167.328 128.623932
L 165.091932 133.096068
L 169.564068 133.096068
z
" clip-path="url(#p53ebf2ea60)" style="fill: #0000ff; fill-opacity: 0.7; stroke: #0000ff; stroke-opacity: 0.7"/>
<path d="M 145.8 156.523932
L 143.563932 160.996068
L 148.036068 160.996068
z
" clip-path="url(#p53ebf2ea60)" style="fill: #0000ff; fill-opacity: 0.7; stroke: #0000ff; stroke-opacity: 0.7"/>
<path d="M 136.08 161.491932
L 133.843932 165.964068
L 138.316068 165.964068
z
" clip-path="url(#p53ebf2ea60)" style="fill: #0000ff; fill-opacity: 0.7; stroke: #0000ff; stroke-opacity: 0.7"/>
<path d="M 167.4 157.531932
L 165.163932 162.004068
L 169.636068 162.004068
z
" clip-path="url(#p53ebf2ea60)" style="fill: #0000ff; fill-opacity: 0.7; stroke: #0000ff; stroke-opacity: 0.7"/>
<path d="M 165.168 164.083932
L 162.931932 168.556068
L 167.404068 168.556068
z
" clip-path="url(#p53ebf2ea60)" style="fill: #0000ff; fill-opacity: 0.7; stroke: #0000ff; stroke-opacity: 0.7"/>
<path d="M 202.5 96.115932
L 200.263932 100.588068
L 204.736068 100.588068
z
" clip-path="url(#p53ebf2ea60)" style="fill: #0000ff; fill-opacity: 0.7; stroke: #0000ff; stroke-opacity: 0.7"/>
<path d="M 227.232 115.051932
L 224.995932 119.524068
L 229.468068 119.524068
z
" clip-path="url(#p53ebf2ea60)" style="fill: #0000ff; fill-opacity: 0.7; stroke: #0000ff; stroke-opacity: 0.7"/>
<path d="M 249.048 106.663932
L 246.811932 111.136068
L 251.284068 111.136068
z
" clip-path="url(#p53ebf2ea60)" style="fill: #0000ff; fill-opacity: 0.7; stroke: #0000ff; stroke-opacity: 0.7"/>
<path d="M 216 155.875932
L 213.763932 160.348068
L 218.236068 160.348068
z
" clip-path="url(#p53ebf2ea60)" style="fill: #0000ff; fill-opacity: 0.7; stroke: #0000ff; stroke-opacity: 0.7"/>
<path d="M 285.48 135.643932
L 283.243932 140.116068
L 287.716068 140.116068
z
" clip-path="url(#p53ebf2ea60)" style="fill: #0000ff; fill-opacity: 0.7; stroke: #0000ff; stroke-opacity: 0.7"/>
<path d="M 283.5 140.683932
L 281.263932 145.156068
L 285.736068 145.156068
z
" clip-path="url(#p53ebf2ea60)" style="fill: #0000ff; fill-opacity: 0.7; stroke: #0000ff; stroke-opacity: 0.7"/>
<path d="M 241.848 150.583932
L 239.611932 155.056068
L 244.084068 155.056068
z
" clip-path="url(#p53ebf2ea60)" style="fill: #0000ff; fill-opacity: 0.7; stroke: #0000ff; stroke-opacity: 0.7"/>
<path d="M 246.6 154.183932
L 244.363932 158.656068
L 248.836068 158.656068
z
" clip-path="url(#p53ebf2ea60)" style="fill: #0000ff; fill-opacity: 0.7; stroke: #0000ff; stroke-opacity: 0.7"/>
<path d="M 220.5 109.291932
L 218.263932 113.764068
L 222.736068 113.764068
z
" clip-path="url(#p53ebf2ea60)" style="fill: #0000ff; fill-opacity: 0.75; stroke: #0000ff; stroke-opacity: 0.75"/>
<path d="M 189.792 113.971932
L 187.555932 118.444068
L 192.028068 118.444068
z
" clip-path="url(#p53ebf2ea60)" style="fill: #0000ff; fill-opacity: 0.75; stroke: #0000ff; stroke-opacity: 0.75"/>
<path d="M 259.92 86.611932
L 257.683932 91.084068
L 262.156068 91.084068
z
" clip-path="url(#p53ebf2ea60)" style="fill: #0000ff; fill-opacity: 0.75; stroke: #0000ff; stroke-opacity: 0.75"/>
<path d="M 334.512 101.875932
L 332.275932 106.348068
L 336.748068 106.348068
z
" clip-path="url(#p53ebf2ea60)" style="fill: #0000ff; fill-opacity: 0.75; stroke: #0000ff; stroke-opacity: 0.75"/>
<path d="M 323.712 149.863932
L 321.475932 154.336068
L 325.948068 154.336068
z
" clip-path="url(#p53ebf2ea60)" style="fill: #0000ff; fill-opacity: 0.75; stroke: #0000ff; stroke-opacity: 0.75"/>
<path d="M 122.688 181.651932
L 120.451932 186.124068
L 124.924068 186.124068
z
" clip-path="url(#p53ebf2ea60)" style="fill: #0000ff; fill-opacity: 0.75; stroke: #0000ff; stroke-opacity: 0.75"/>
<path d="M 157.5 173.443932
L 155.263932 177.916068
L 159.736068 177.916068
z
" clip-path="url(#p53ebf2ea60)" style="fill: #0000ff; fill-opacity: 0.75; stroke: #0000ff; stroke-opacity: 0.75"/>
<path d="M 264.168 150.043932
L 261.931932 154.516068
L 266.404068 154.516068
z
" clip-path="url(#p53ebf2ea60)" style="fill: #0000ff; fill-opacity: 0.8; stroke: #0000ff; stroke-opacity: 0.8"/>
<path d="M 298.62 155.263932
L 296.383932 159.736068
L 300.856068 159.736068
z
" clip-path="url(#p53ebf2ea60)" style="fill: #0000ff; fill-opacity: 0.8; stroke: #0000ff; stroke-opacity: 0.8"/>
<path d="M 333.288 148.783932
L 331.051932 153.256068
L 335.524068 153.256068
z
" clip-path="url(#p53ebf2ea60)" style="fill: #0000ff; fill-opacity: 0.8; stroke: #0000ff; stroke-opacity: 0.8"/>
<path d="M 159.048 179.743932
L 156.811932 184.216068
L 161.284068 184.216068
z
" clip-path="url(#p53ebf2ea60)" style="fill: #0000ff; fill-opacity: 0.8; stroke: #0000ff; stroke-opacity: 0.8"/>
<path d="M 203.4 177.043932
L 201.163932 181.516068
L 205.636068 181.516068
z
" clip-path="url(#p53ebf2ea60)" style="fill: #0000ff; fill-opacity: 0.8; stroke: #0000ff; stroke-opacity: 0.8"/>
<path d="M 203.4 183.343932
L 201.163932 187.816068
L 205.636068 187.816068
z
" clip-path="url(#p53ebf2ea60)" style="fill: #0000ff; fill-opacity: 0.8; stroke: #0000ff; stroke-opacity: 0.8"/>
<path d="M 171.3384 105.403932
L 169.102332 109.876068
L 173.574468 109.876068
z
" clip-path="url(#p53ebf2ea60)" style="fill: #0000ff; fill-opacity: 0.85; stroke: #0000ff; stroke-opacity: 0.85"/>
<path d="M 208.62 98.995932
L 206.383932 103.468068
L 210.856068 103.468068
z
" clip-path="url(#p53ebf2ea60)" style="fill: #0000ff; fill-opacity: 0.85; stroke: #0000ff; stroke-opacity: 0.85"/>
<path d="M 203.58 142.411932
L 201.343932 146.884068
L 205.816068 146.884068
z
" clip-path="url(#p53ebf2ea60)" style="fill: #0000ff; fill-opacity: 0.85; stroke: #0000ff; stroke-opacity: 0.85"/>
<path d="M 143.568 167.179932
L 141.331932 171.652068
L 145.804068 171.652068
z
" clip-path="url(#p53ebf2ea60)" style="fill: #0000ff; fill-opacity: 0.85; stroke: #0000ff; stroke-opacity: 0.85"/>
<path d="M 165.888 194.251932
L 163.651932 198.724068
L 168.124068 198.724068
z
" clip-path="url(#p53ebf2ea60)" style="fill: #0000ff; fill-opacity: 0.85; stroke: #0000ff; stroke-opacity: 0.85"/>
<path d="M 203.22 171.931932
L 200.983932 176.404068
L 205.456068 176.404068
z
" clip-path="url(#p53ebf2ea60)" style="fill: #0000ff; fill-opacity: 0.85; stroke: #0000ff; stroke-opacity: 0.85"/>
<path d="M 257.4 170.131932
L 255.163932 174.604068
L 259.636068 174.604068
z
" clip-path="url(#p53ebf2ea60)" style="fill: #0000ff; fill-opacity: 0.85; stroke: #0000ff; stroke-opacity: 0.85"/>
<path d="M 281.232 165.739932
L 278.995932 170.212068
L 283.468068 170.212068
z
" clip-path="url(#p53ebf2ea60)" style="fill: #0000ff; fill-opacity: 0.9; stroke: #0000ff; stroke-opacity: 0.9"/>
<path d="M 173.88 196.051932
L 171.643932 200.524068
L 176.116068 200.524068
z
" clip-path="url(#p53ebf2ea60)" style="fill: #0000ff; fill-opacity: 0.9; stroke: #0000ff; stroke-opacity: 0.9"/>
<path d="M 156.42 133.915932
L 154.183932 138.388068
L 158.656068 138.388068
z
" clip-path="url(#p53ebf2ea60)" style="fill: #0000ff; fill-opacity: 0.95; stroke: #0000ff; stroke-opacity: 0.95"/>
<path d="M 187.2 133.555932
L 184.963932 138.028068
L 189.436068 138.028068
z
" clip-path="url(#p53ebf2ea60)" style="fill: #0000ff; fill-opacity: 0.95; stroke: #0000ff; stroke-opacity: 0.95"/>
<path d="M 199.8 132.475932
L 197.563932 136.948068
L 202.036068 136.948068
z
" clip-path="url(#p53ebf2ea60)" style="fill: #0000ff; fill-opacity: 0.95; stroke: #0000ff; stroke-opacity: 0.95"/>
<path d="M 195.768 139.243932
L 193.531932 143.716068
L 198.004068 143.716068
z
" clip-path="url(#p53ebf2ea60)" style="fill: #0000ff; fill-opacity: 0.95; stroke: #0000ff; stroke-opacity: 0.95"/>
<path d="M 207.288 143.743932
L 205.051932 148.216068
L 209.524068 148.216068
z
" clip-path="url(#p53ebf2ea60)" style="fill: #0000ff; fill-opacity: 0.95; stroke: #0000ff; stroke-opacity: 0.95"/>
<path d="M 226.152 134.275932
L 223.915932 138.748068
L 228.388068 138.748068
z
" clip-path="url(#p53ebf2ea60)" style="fill: #0000ff; fill-opacity: 0.95; stroke: #0000ff; stroke-opacity: 0.95"/>
<path d="M 227.376 125.059932
L 225.139932 129.532068
L 229.612068 129.532068
z
" clip-path="url(#p53ebf2ea60)" style="fill: #0000ff; fill-opacity: 0.95; stroke: #0000ff; stroke-opacity: 0.95"/>
<path d="M 260.82 150.583932
L 258.583932 155.056068
L 263.056068 155.056068
z
" clip-path="url(#p53ebf2ea60)" style="fill: #0000ff; fill-opacity: 0.95; stroke: #0000ff; stroke-opacity: 0.95"/>
<path d="M 233.568 163.183932
L 231.331932 167.656068
L 235.804068 167.656068
z
" clip-path="url(#p53ebf2ea60)" style="fill: #0000ff; fill-opacity: 0.95; stroke: #0000ff; stroke-opacity: 0.95"/>
<path d="M 244.656 166.099932
L 242.419932 170.572068
L 246.892068 170.572068
z
" clip-path="url(#p53ebf2ea60)" style="fill: #0000ff; fill-opacity: 0.95; stroke: #0000ff; stroke-opacity: 0.95"/>
<path d="M 234.36 165.523932
L 232.123932 169.996068
L 236.596068 169.996068
z
" clip-path="url(#p53ebf2ea60)" style="fill: #0000ff; fill-opacity: 0.95; stroke: #0000ff; stroke-opacity: 0.95"/>
<path d="M 295.488 150.331932
L 293.251932 154.804068
L 297.724068 154.804068
z
" clip-path="url(#p53ebf2ea60)" style="fill: #0000ff; fill-opacity: 0.95; stroke: #0000ff; stroke-opacity: 0.95"/>
<path d="M 296.82 162.931932
L 294.583932 167.404068
L 299.056068 167.404068
z
" clip-path="url(#p53ebf2ea60)" style="fill: #0000ff; fill-opacity: 0.95; stroke: #0000ff; stroke-opacity: 0.95"/>
<path d="M 182.52 170.563932
L 180.283932 175.036068
L 184.756068 175.036068
z
" clip-path="url(#p53ebf2ea60)" style="fill: #0000ff; fill-opacity: 0.95; stroke: #0000ff; stroke-opacity: 0.95"/>
<path d="M 185.58 175.531932
L 183.343932 180.004068
L 187.816068 180.004068
z
" clip-path="url(#p53ebf2ea60)" style="fill: #0000ff; fill-opacity: 0.95; stroke: #0000ff; stroke-opacity: 0.95"/>
<path d="M 211.752 179.563932
L 209.515932 184.036068
L 213.988068 184.036068
z
" clip-path="url(#p53ebf2ea60)" style="fill: #0000ff; fill-opacity: 0.95; stroke: #0000ff; stroke-opacity: 0.95"/>
<path d="M 193.5 186.043932
L 191.263932 190.516068
L 195.736068 190.516068
z
" clip-path="url(#p53ebf2ea60)" style="fill: #0000ff; fill-opacity: 0.95; stroke: #0000ff; stroke-opacity: 0.95"/>
<path d="M 250.02 144.931932
L 247.783932 149.404068
L 252.256068 149.404068
z
" clip-path="url(#p53ebf2ea60)" style="fill: #0000ff; stroke: #0000ff"/>
<path d="M 267.3 158.683932
L 265.063932 163.156068
L 269.536068 163.156068
z
" clip-path="url(#p53ebf2ea60)" style="fill: #0000ff; stroke: #0000ff"/>
<path d="M 252.72 182.443932
L 250.483932 186.916068
L 254.956068 186.916068
z
" clip-path="url(#p53ebf2ea60)" style="fill: #0000ff; stroke: #0000ff"/>
<path d="M 231.3 188.131932
L 229.063932 192.604068
L 233.536068 192.604068
z
" clip-path="url(#p53ebf2ea60)" style="fill: #0000ff; stroke: #0000ff"/>
<path d="M 301.5 188.563932
L 299.263932 193.036068
L 303.736068 193.036068
z
" clip-path="url(#p53ebf2ea60)" style="fill: #0000ff; stroke: #0000ff"/>
</g>
</g>
</g>
<defs>
<clipPath id="p53ebf2ea60">
<rect x="0" y="0" width="460.8" height="345.6"/>
</clipPath>
</defs>
</svg>

</body></html>
